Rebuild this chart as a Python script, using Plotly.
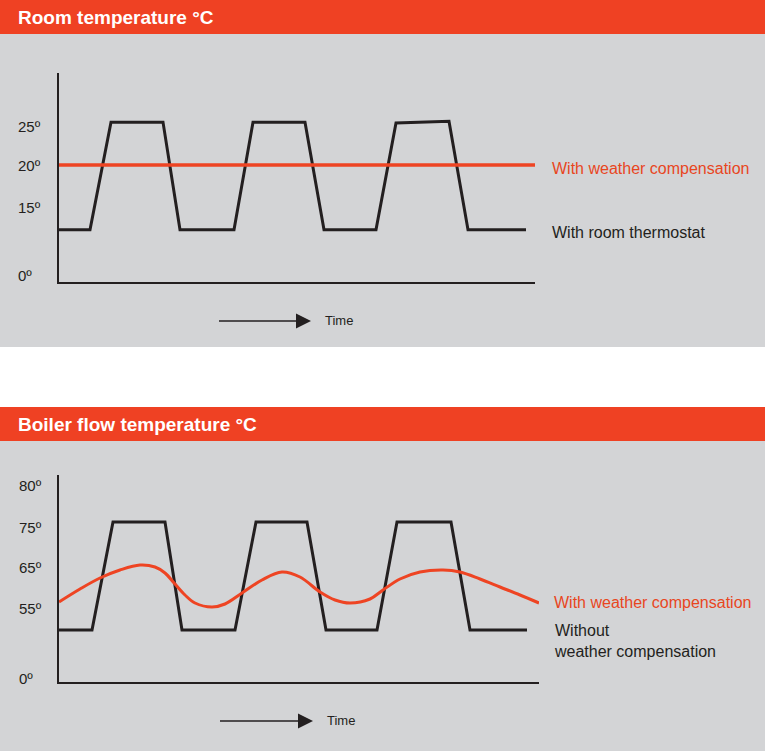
import plotly.graph_objects as go

# ---------------- data ----------------
# Top panel: room temperature (schematic units, linear axis)
room_time = [0, 31, 52, 104, 121, 175, 194, 246, 265, 317, 337, 390, 409, 467]
room_thermostat = [11.7, 11.7, 25.5, 25.5, 11.7, 11.7, 25.5, 25.5, 11.7, 11.7, 25.4, 25.6, 11.7, 11.7]
room_comp_time = [0, 476]
room_comp = [20, 20]
room_tick_vals = [25, 20, 14.6, 5.8]
room_tick_text = ["25º", "20º", "15º", "0º"]

# Bottom panel: boiler flow temperature (schematic units)
boiler_time = [0, 33, 54, 106, 123, 176, 197, 248, 267, 318, 338, 392, 411, 468]
boiler_without = [49.25, 49.25, 76.25, 76.25, 49.25, 49.25, 76.25, 76.25, 49.25, 49.25, 76.25, 76.25, 49.25, 49.25]
boiler_comp_time = [0, 21, 41, 61, 81, 96, 106, 116, 126, 136, 153, 166, 183, 203, 223, 241,
                    261, 276, 291, 311, 324, 341, 361, 384, 401, 421, 441, 461, 480]
boiler_comp = [56.25, 59.5, 62.25, 64.25, 65.5, 65, 63.5, 60.75, 58, 56, 55, 55.75, 58.5, 61.75,
               63.75, 62.5, 58.75, 56.75, 56, 57, 59.25, 62, 63.75, 64.25, 63.75, 62, 60, 58, 56]
boiler_tick_vals = [85.5, 75, 65, 54.75, 37.25]
boiler_tick_text = ["80º", "75º", "65º", "55º", "0º"]

titles = ["Room temperature °C", "Boiler flow temperature °C"]

# ---------------- styling ----------------
W, H = 765, 751
ORANGE = "#EF4123"
RED = "#EE4423"
RED_TXT = "#E8461E"
BLACK = "#231F20"
GRAY = "#D3D4D6"
FONT = "Liberation Sans"


def px(x):
    return x / W


def py(y):
    return 1 - y / H


fig = go.Figure()

fig.add_trace(go.Scatter(x=room_time, y=room_thermostat, mode="lines",
                         line=dict(color=BLACK, width=3), xaxis="x", yaxis="y",
                         showlegend=False, hoverinfo="skip"))
fig.add_trace(go.Scatter(x=room_comp_time, y=room_comp, mode="lines",
                         line=dict(color=RED, width=3.5), xaxis="x", yaxis="y",
                         showlegend=False, hoverinfo="skip"))
fig.add_trace(go.Scatter(x=boiler_time, y=boiler_without, mode="lines",
                         line=dict(color=BLACK, width=3), xaxis="x2", yaxis="y2",
                         showlegend=False, hoverinfo="skip"))
fig.add_trace(go.Scatter(x=boiler_comp_time, y=boiler_comp, mode="lines",
                         line=dict(color=RED, width=3, shape="spline", smoothing=1),
                         xaxis="x2", yaxis="y2", showlegend=False, hoverinfo="skip"))

axis_common = dict(showline=True, linecolor=BLACK, linewidth=1.5, showgrid=False,
                   zeroline=False, showticklabels=False, ticks="", fixedrange=True)

shapes = [
    # backgrounds
    dict(type="rect", xref="paper", yref="paper", x0=0, x1=1, y0=py(347), y1=py(34),
         fillcolor=GRAY, line=dict(width=0), layer="below"),
    dict(type="rect", xref="paper", yref="paper", x0=0, x1=1, y0=py(0), y1=py(34),
         fillcolor=ORANGE, line=dict(width=0), layer="below"),
    dict(type="rect", xref="paper", yref="paper", x0=0, x1=1, y0=py(751), y1=py(441),
         fillcolor=GRAY, line=dict(width=0), layer="below"),
    dict(type="rect", xref="paper", yref="paper", x0=0, x1=1, y0=py(441), y1=py(407),
         fillcolor=ORANGE, line=dict(width=0), layer="below"),
    # time arrows
    dict(type="line", xref="paper", yref="paper", x0=px(219), x1=px(297), y0=py(321), y1=py(321),
         line=dict(color=BLACK, width=1.3)),
    dict(type="path", xref="paper", yref="paper",
         path=f"M {px(296)},{py(313.5)} L {px(311)},{py(321)} L {px(296)},{py(328.5)} Z",
         fillcolor=BLACK, line=dict(width=0)),
    dict(type="line", xref="paper", yref="paper", x0=px(220), x1=px(299), y0=py(721), y1=py(721),
         line=dict(color=BLACK, width=1.3)),
    dict(type="path", xref="paper", yref="paper",
         path=f"M {px(298)},{py(713.5)} L {px(313)},{py(721)} L {px(298)},{py(728.5)} Z",
         fillcolor=BLACK, line=dict(width=0)),
]

annotations = []
# headers
annotations.append(dict(text=f"<b>{titles[0]}</b>", xref="paper", yref="paper", x=px(16), y=py(17.5),
                        xanchor="left", yanchor="middle", showarrow=False,
                        font=dict(family=FONT, size=19, color="white")))
annotations.append(dict(text=f"<b>{titles[1]}</b>", xref="paper", yref="paper", x=px(16), y=py(424.5),
                        xanchor="left", yanchor="middle", showarrow=False,
                        font=dict(family=FONT, size=19, color="white")))
# tick labels
for v, t in zip(room_tick_vals, room_tick_text):
    annotations.append(dict(text=t, xref="paper", yref="y", x=px(16), y=v, xanchor="left",
                            yanchor="middle", showarrow=False,
                            font=dict(family=FONT, size=15, color=BLACK)))
for v, t in zip(boiler_tick_vals, boiler_tick_text):
    annotations.append(dict(text=t, xref="paper", yref="y2", x=px(17), y=v, xanchor="left",
                            yanchor="middle", showarrow=False,
                            font=dict(family=FONT, size=15, color=BLACK)))
# series labels
annotations += [
    dict(text="With weather compensation", xref="paper", yref="y", x=px(550), y=19.6,
         xanchor="left", yanchor="middle", showarrow=False,
         font=dict(family=FONT, size=16, color=RED_TXT)),
    dict(text="With room thermostat", xref="paper", yref="y", x=px(550), y=11.4,
         xanchor="left", yanchor="middle", showarrow=False,
         font=dict(family=FONT, size=16, color=BLACK)),
    dict(text="With weather compensation", xref="paper", yref="y2", x=px(552), y=56.25,
         xanchor="left", yanchor="middle", showarrow=False,
         font=dict(family=FONT, size=16, color=RED_TXT)),
    dict(text="Without<br>weather compensation", xref="paper", yref="y2", x=px(552), y=46.4,
         xanchor="left", yanchor="middle", align="left", showarrow=False,
         font=dict(family=FONT, size=16, color=BLACK)),
    dict(text="Time", xref="paper", yref="paper", x=px(323), y=py(320.5), xanchor="left",
         yanchor="middle", showarrow=False, font=dict(family=FONT, size=13, color=BLACK)),
    dict(text="Time", xref="paper", yref="paper", x=px(325), y=py(720.5), xanchor="left",
         yanchor="middle", showarrow=False, font=dict(family=FONT, size=13, color=BLACK)),
]

fig.update_layout(
    width=W, height=H,
    margin=dict(l=0, r=0, t=0, b=0),
    paper_bgcolor="white",
    plot_bgcolor="rgba(0,0,0,0)",
    showlegend=False,
    xaxis=dict(domain=[px(59), px(535)], range=[0, 476], anchor="y", **axis_common),
    yaxis=dict(domain=[py(282), py(73)], range=[5.0, 31.8], anchor="x", **axis_common),
    xaxis2=dict(domain=[px(59), px(539)], range=[0, 480], anchor="y2", **axis_common),
    yaxis2=dict(domain=[py(682), py(475)], range=[36.25, 88.0], anchor="x2", **axis_common),
    shapes=shapes,
    annotations=annotations,
)

fig.write_html("out.html")
